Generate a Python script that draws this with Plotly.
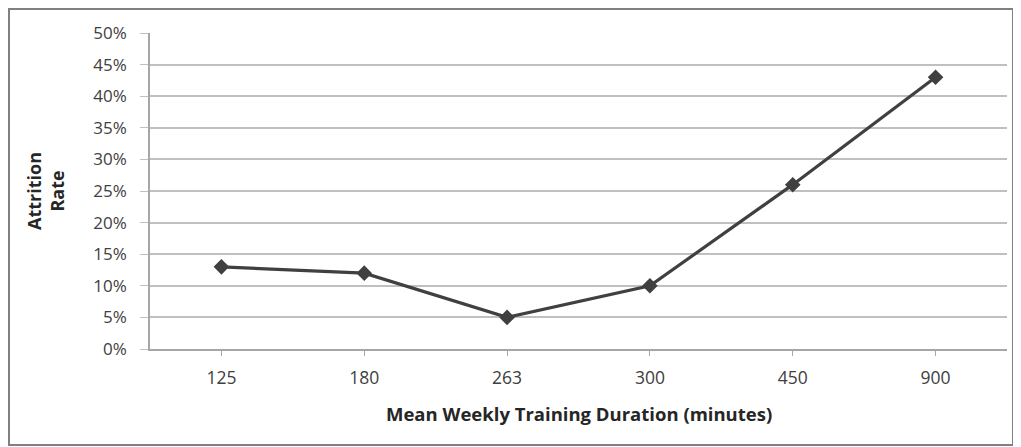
import plotly.graph_objects as go

categories = ["125", "180", "263", "300", "450", "900"]
attrition = [0.13, 0.12, 0.05, 0.10, 0.26, 0.43]
y_ticks = [0, 0.05, 0.10, 0.15, 0.20, 0.25, 0.30, 0.35, 0.40, 0.45, 0.50]
y_labels = ["0%", "5%", "10%", "15%", "20%", "25%", "30%", "35%", "40%", "45%", "50%"]

FONT = "Open Sans, Liberation Sans, sans-serif"

# page body has an 8px margin; figure is laid out in page coordinates minus 8
OFF = 8
W, H = 1021 - OFF, 447 - OFF
L, R, T, B = 150 - OFF, 14, 33 - OFF, 98
pw, ph = W - L - R, H - T - B

def px_x(p):
    return (p - OFF - L) / pw

def px_y(p):
    return (H - B - (p - OFF)) / ph

fig = go.Figure()
fig.add_trace(go.Scatter(
    x=categories, y=attrition, mode="lines+markers",
    line=dict(color="#404040", width=3.2),
    marker=dict(symbol="diamond", size=12, color="#404040"),
    showlegend=False,
))

fig.update_layout(
    width=W, height=H,
    margin=dict(l=L, r=R, t=T, b=B),
    paper_bgcolor="white", plot_bgcolor="white",
    font=dict(family=FONT, size=16, color="#404040"),
    xaxis=dict(
        type="category", range=[-0.5, 5.5],
        showgrid=False, showline=True, linecolor="#a6a6a6", linewidth=1.5,
        ticks="outside", ticklen=5, tickcolor="#a6a6a6",
        tickfont=dict(size=17.5, color="#404040"), ticklabelstandoff=7,
    ),
    yaxis=dict(
        range=[0, 0.5], tickvals=y_ticks, ticktext=y_labels,
        showgrid=True, gridcolor="#c0c0c0", gridwidth=1.5,
        showline=True, linecolor="#a6a6a6", linewidth=1.5,
        ticks="outside", ticklen=8, tickcolor="#c0c0c0",
        tickfont=dict(size=17, color="#404040"), ticklabelstandoff=10,
        zeroline=False,
    ),
    shapes=[dict(
        type="rect", xref="paper", yref="paper",
        x0=px_x(9), x1=px_x(1013), y0=px_y(445), y1=px_y(9),
        line=dict(color="#808080", width=2), fillcolor="rgba(0,0,0,0)",
    )],
    annotations=[
        dict(text="<b>Attrition<br>Rate</b>", textangle=-90, xref="paper", yref="paper",
             x=px_x(45), y=px_y(191), xanchor="center", yanchor="middle",
             showarrow=False, font=dict(size=18, color="#262626")),
        dict(text="<b>Mean Weekly Training Duration (minutes)</b>", xref="paper", yref="paper",
             x=px_x(579), y=px_y(413), xanchor="center", yanchor="middle",
             showarrow=False, font=dict(size=18.5, color="#262626")),
    ],
)

fig.write_html("out.html")
